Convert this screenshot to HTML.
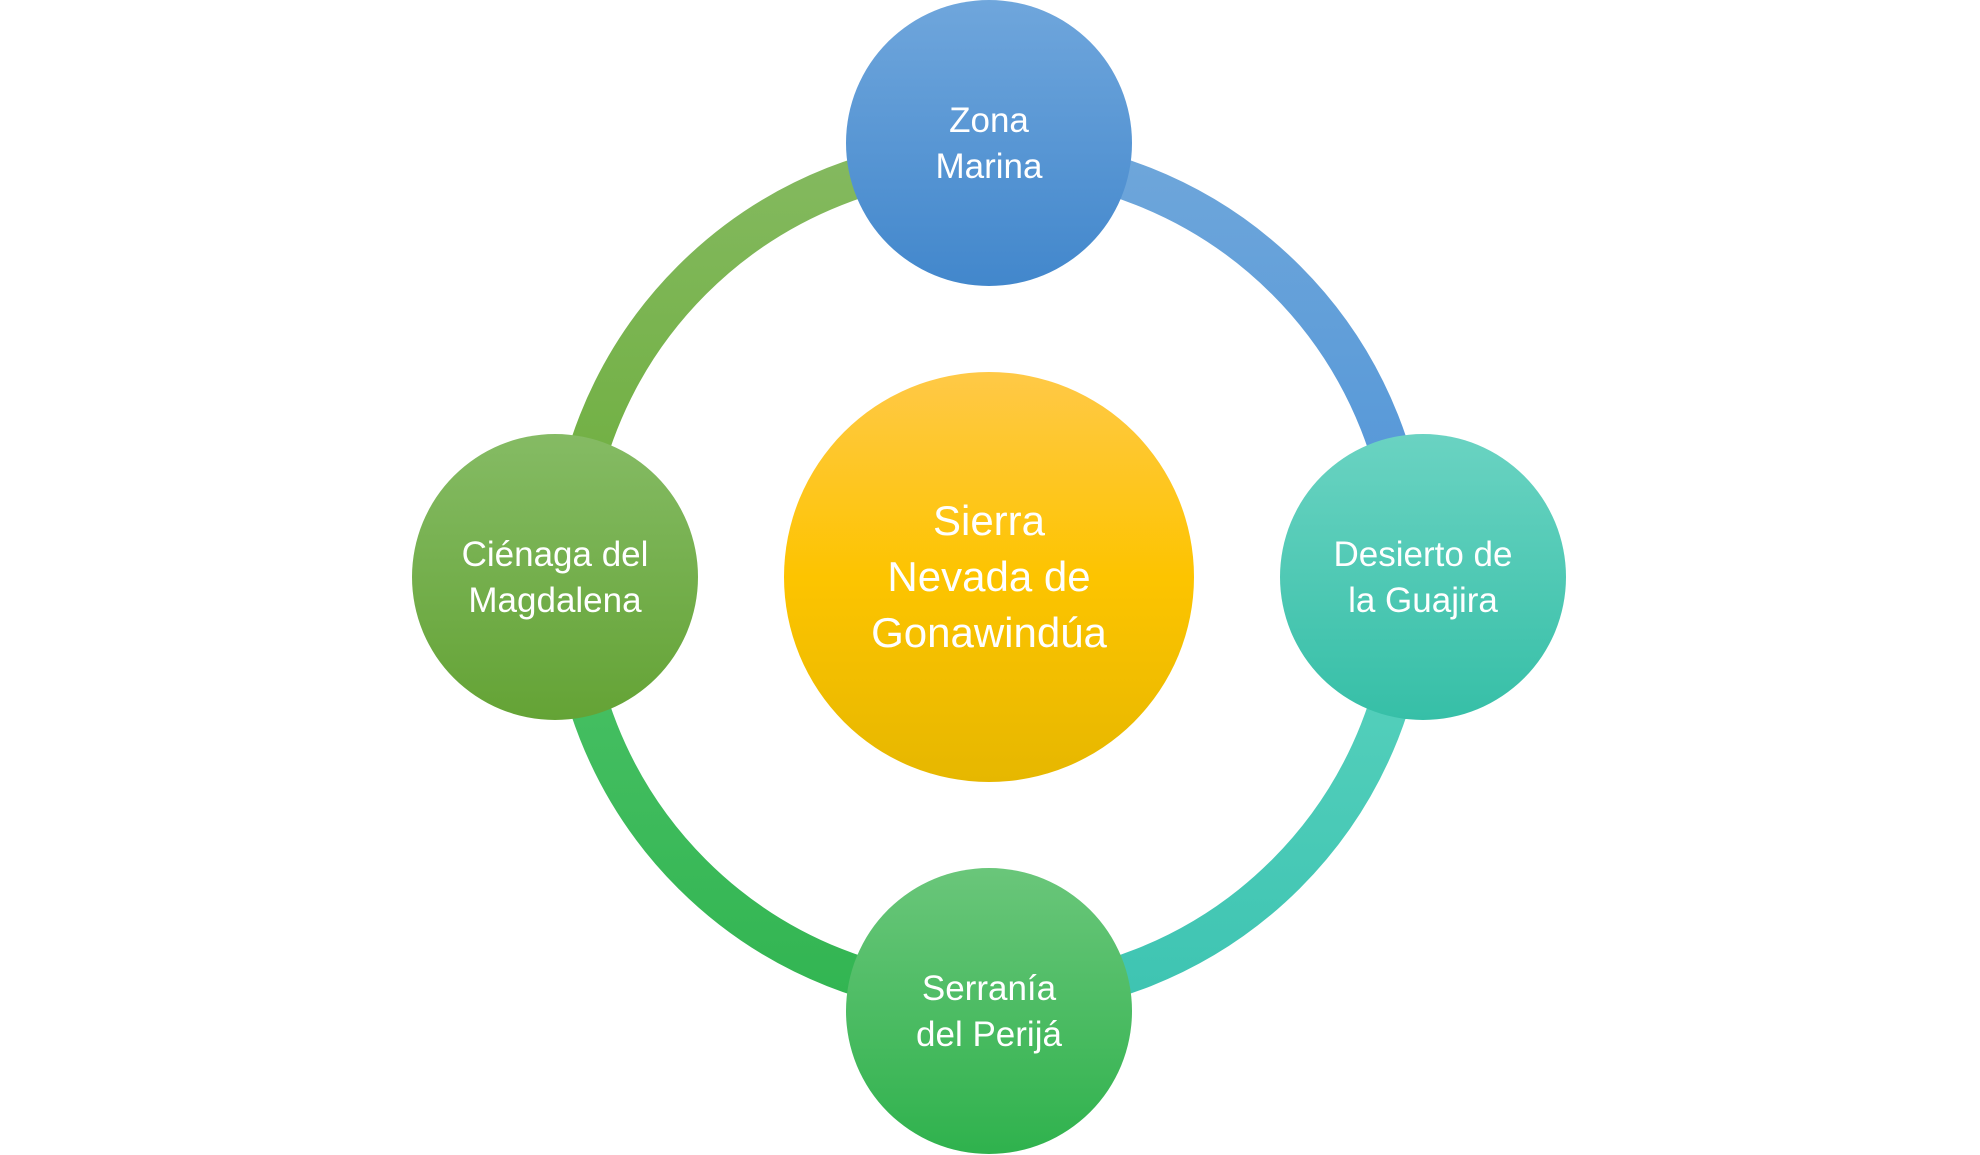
<!DOCTYPE html>
<html><head><meta charset="utf-8"><style>
html,body{margin:0;padding:0;background:#fff;width:1980px;height:1155px;overflow:hidden}
svg text{font-family:"Liberation Sans","DejaVu Sans",sans-serif;fill:#fff;text-anchor:middle}
</style></head><body>
<svg width="1980" height="1155" viewBox="0 0 1980 1155">
<defs>
<linearGradient id="gb" x1="0" y1="0" x2="0" y2="1"><stop offset="0" stop-color="#6fa6dc"/><stop offset="1" stop-color="#4287cc"/></linearGradient>
<linearGradient id="gt" x1="0" y1="0" x2="0" y2="1"><stop offset="0" stop-color="#6ad3c2"/><stop offset="1" stop-color="#36bfa7"/></linearGradient>
<linearGradient id="gg" x1="0" y1="0" x2="0" y2="1"><stop offset="0" stop-color="#85bb64"/><stop offset="1" stop-color="#64a335"/></linearGradient>
<linearGradient id="gs" x1="0" y1="0" x2="0" y2="1"><stop offset="0" stop-color="#6ac67a"/><stop offset="1" stop-color="#2fb24d"/></linearGradient>
<linearGradient id="gy" x1="0" y1="0" x2="0" y2="1"><stop offset="0" stop-color="#ffc947"/><stop offset="0.5" stop-color="#fdc400"/><stop offset="1" stop-color="#e6b700"/></linearGradient>
<linearGradient id="a1" x1="0" y1="0" x2="0" y2="1"><stop offset="0" stop-color="#6ea6da"/><stop offset="1" stop-color="#4f94d8"/></linearGradient>
<linearGradient id="a2" x1="0" y1="0" x2="0" y2="1"><stop offset="0" stop-color="#5bd3be"/><stop offset="1" stop-color="#3ec4b2"/></linearGradient>
<linearGradient id="a3" x1="0" y1="0" x2="0" y2="1"><stop offset="0" stop-color="#4cc267"/><stop offset="1" stop-color="#32b552"/></linearGradient>
<linearGradient id="a4" x1="0" y1="0" x2="0" y2="1"><stop offset="0" stop-color="#84b95f"/><stop offset="1" stop-color="#6bad3a"/></linearGradient>
</defs>
<g fill="none" stroke-width="40">
<path d="M989 157 A420 420 0 0 1 1409 577" stroke="url(#a1)"/>
<path d="M1409 577 A420 420 0 0 1 989 997" stroke="url(#a2)"/>
<path d="M989 997 A420 420 0 0 1 569 577" stroke="url(#a3)"/>
<path d="M569 577 A420 420 0 0 1 989 157" stroke="url(#a4)"/>
</g>
<circle cx="989" cy="577" r="205" fill="url(#gy)"/>
<circle cx="989" cy="143" r="143" fill="url(#gb)"/>
<circle cx="1423" cy="577" r="143" fill="url(#gt)"/>
<circle cx="989" cy="1011" r="143" fill="url(#gs)"/>
<circle cx="555" cy="577" r="143" fill="url(#gg)"/>
<g font-size="42"><text x="989" y="535">Sierra</text><text x="989" y="591">Nevada de</text><text x="989" y="647">Gonawindúa</text></g>
<g font-size="35">
<text x="989" y="132">Zona</text><text x="989" y="178">Marina</text>
<text x="1423" y="566">Desierto de</text><text x="1423" y="612">la Guajira</text>
<text x="555" y="566">Ciénaga del</text><text x="555" y="612">Magdalena</text>
<text x="989" y="1000">Serranía</text><text x="989" y="1046">del Perijá</text>
</g>
</svg>
</body></html>
